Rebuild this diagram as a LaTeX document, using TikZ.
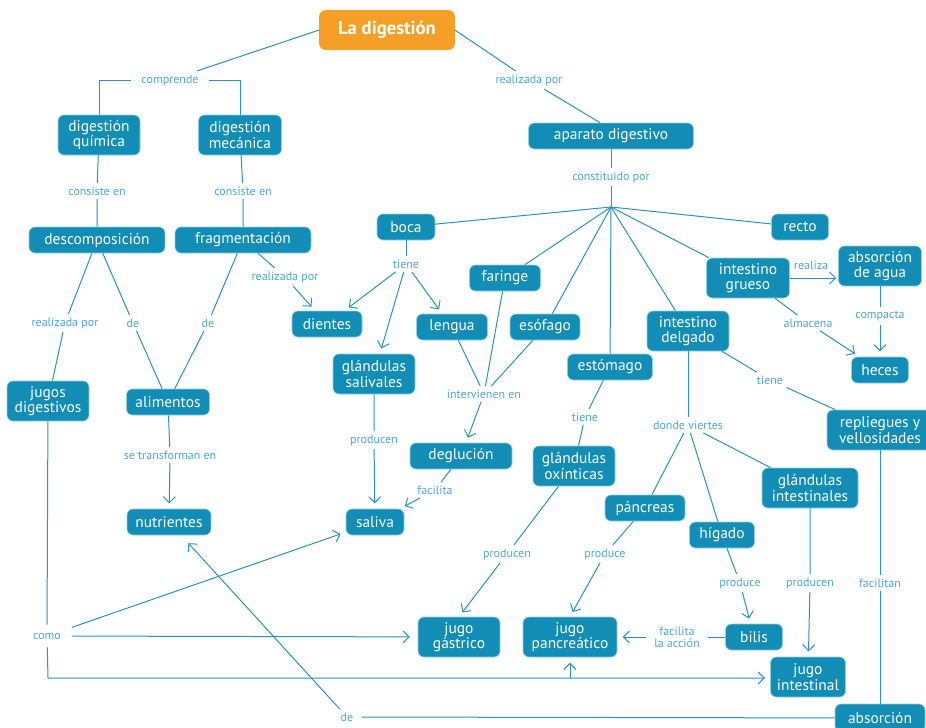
\documentclass[tikz,border=0pt]{standalone}
\usepackage{fontspec}
\setmainfont{PT Sans}
\usetikzlibrary{arrows.meta,calc}
\definecolor{nodefill}{HTML}{128DB5}
\definecolor{linec}{HTML}{2A93BE}
\definecolor{labc}{HTML}{4AAAD2}
\definecolor{orangec}{HTML}{F59F27}
\definecolor{edgec}{HTML}{8FD0E6}
\begin{document}
\begin{tikzpicture}[x=0.75pt,y=-0.75pt,
 box/.style={rounded corners=4.5pt, fill=nodefill, draw=edgec, line width=0.5pt, text=white, align=center, inner sep=0pt, font=\fontsize{11.6}{11.6}\selectfont, minimum height=19.5pt},
 tall/.style={minimum height=30pt},
 lab/.style={text=labc, font=\fontsize{9}{9}\selectfont, inner sep=2.5pt, align=center},
 con/.style={draw=linec, line width=0.75pt},
 arr/.style={con, -{Straight Barb[length=4.5pt,width=9pt]}, shorten >=4pt},
]
\useasboundingbox (0,0) rectangle (926,728);
\fill[white] (0,0) rectangle (926,728);
% nodes
\node[box, fill=orangec, draw=orangec, minimum width=101.25pt, minimum height=29.25pt, font=\fontsize{14}{14}\bfseries] (ladig) at (387,30) {La digestión};
\node[box, minimum width=123.75pt] (aparato) at (611,136) {aparato digestivo};
\node[box, tall, minimum width=61.5pt] (quim) at (99,135) {digestión\\química};
\node[box, tall, minimum width=62.25pt] (mec) at (240,135) {digestión\\mecánica};
\node[box, minimum width=102pt] (desc) at (97,240) {descomposición};
\node[box, minimum width=102pt] (frag) at (243,240) {fragmentación};
\node[box, minimum width=43.5pt] (boca) at (406,227) {boca};
\node[box, minimum width=42.75pt] (recto) at (800,227) {recto};
\node[box, minimum width=53.25pt] (faringe) at (505,278) {faringe};
\node[box, tall, minimum width=62.25pt] (grueso) at (748,278) {intestino\\grueso};
\node[box, tall, minimum width=62.25pt] (agua) at (880,266) {absorción\\de agua};
\node[box, minimum width=52.5pt] (dientes) at (327,324) {dientes};
\node[box, minimum width=53.25pt] (lengua) at (452,327) {lengua};
\node[box, minimum width=52.5pt] (esofago) at (545,327) {esófago};
\node[box, tall, minimum width=61.5pt] (delgado) at (688,331) {intestino\\delgado};
\node[box, minimum width=42.75pt] (heces) at (880,370) {heces};
\node[box, tall, minimum width=61.5pt] (salivales) at (374,374) {glándulas\\salivales};
\node[box, minimum width=63.75pt] (estomago) at (610,367) {estómago};
\node[box, tall, minimum width=61.5pt] (jugos) at (48,401) {jugos\\digestivos};
\node[box, minimum width=62.25pt] (alimentos) at (168,402) {alimentos};
\node[box, tall, minimum width=79.5pt] (repliegues) at (880,430) {repliegues y\\vellosidades};
\node[box, minimum width=76.5pt] (deglucion) at (461,456) {deglución};
\node[box, tall, minimum width=61.5pt] (oxinticas) at (574,466) {glándulas\\oxínticas};
\node[box, tall, minimum width=72pt] (intestinales) at (810,488) {glándulas\\intestinales};
\node[box, minimum width=60pt] (pancreas) at (645,508) {páncreas};
\node[box, minimum width=48.75pt] (higado) at (722,535) {hígado};
\node[box, minimum width=63pt] (nutrientes) at (169,522) {nutrientes};
\node[box, minimum width=43.5pt] (saliva) at (375,522) {saliva};
\node[box, tall, minimum width=61.5pt] (gastrico) at (459,637) {jugo\\gástrico};
\node[box, tall, minimum width=70.5pt] (pancreatico) at (570,637) {jugo\\pancreático};
\node[box, minimum width=42.75pt] (bilis) at (754,637) {bilis};
\node[box, tall, minimum width=56.25pt] (intestinal) at (808,677) {jugo\\intestinal};
\node[box, minimum width=67.5pt, minimum height=21pt] (absorcion) at (880,718) {absorción};
% labels
\node[lab, inner xsep=8pt] (lcomp) at (170,80) {comprende};
\node[lab] (lreal1) at (529,80) {realizada por};
\node[lab] (lcons1) at (97,191) {consiste en};
\node[lab] (lcons2) at (243,191) {consiste en};
\node[lab] (lconst) at (611,177) {constituido por};
\coordinate (hub) at (611,207);
\node[lab] (ltiene1) at (406,264) {tiene};
\node[lab] (lreal2) at (285,277) {realizada por};
\node[lab] (lreal3) at (65,323) {realizada por};
\node[lab] (lde1) at (133,323) {de};
\node[lab] (lde2) at (208,323) {de};
\node[lab] at (811,265) {realiza};
\node[lab] (lalm) at (808,323) {almacena};
\node[lab] (lcompacta) at (880,316) {compacta};
\node[lab] (ltiene2) at (770,380) {tiene};
\node[lab] (linterv) at (484,394) {intervienen en};
\node[lab] (lprod1) at (374,440) {producen};
\node[lab] (ltiene3) at (585,417) {tiene};
\node[lab] (ldonde) at (688,425) {donde viertes};
\node[lab] (ltransf) at (170,455) {se transforman en};
\node[lab] (lfacilita) at (435,490) {facilita};
\node[lab] (lprod2) at (507,554) {producen};
\node[lab] (lprod3) at (605,554) {produce};
\node[lab] (lprod4) at (740,583) {produce};
\node[lab] (lprod5) at (810,583) {producen};
\node[lab] (lfacilitan) at (880,583) {facilitan};
\node[lab, inner xsep=6pt] (lfacacc) at (677,637) {facilita\\la acción};
\node[lab, inner xsep=8pt, inner ysep=6pt] (lcomo) at (47,636) {como};
\node[lab, inner xsep=6pt] (lde3) at (347,717) {de};
\coordinate (c1) at (48,678);
% connectors
\draw[con] (ladig.west) -- (lcomp);
\draw[con] (lcomp.west) -| (quim.north);
\draw[con] (lcomp.east) -| (mec.north);
\draw[con] (ladig.east) -- (lreal1) -- ($(aparato.north)+(-11,0)$);
\draw[con] (quim) -- (lcons1) -- (desc);
\draw[con] (mec) -- (lcons2) -- (frag);
\draw[con] (aparato) -- (lconst) -- (hub);
\draw[con] (hub) -- (boca);
\draw[con] (hub) -- (faringe);
\draw[con] (hub) -- (esofago);
\draw[con] (hub) -- (estomago);
\draw[con] (hub) -- (delgado);
\draw[con] (hub) -- (grueso);
\draw[con] (hub) -- (recto);
\draw[con] (desc) -- (lreal3) -- (jugos);
\draw[con] (desc) -- (lde1) -- (alimentos);
\draw[con] (frag) -- (lde2) -- (alimentos);
\draw[arr] (frag) -- (lreal2) -- (dientes);
\draw[con] (boca) -- (ltiene1);
\draw[arr] (ltiene1) -- (dientes);
\draw[arr] (ltiene1) -- (salivales);
\draw[arr] (ltiene1) -- (lengua);
\draw[con] (faringe) -- (linterv);
\draw[con] (lengua) -- (linterv);
\draw[con] (esofago) -- (linterv);
\draw[arr] (linterv) -- (deglucion);
\draw[arr] (salivales) -- (lprod1) -- (saliva);
\draw[arr] (deglucion) -- (lfacilita) -- (saliva);
\draw[arr] (alimentos) -- (ltransf) -- (nutrientes);
\draw[con] (estomago) -- (ltiene3) -- (oxinticas);
\draw[arr] (oxinticas) -- (lprod2) -- (gastrico.north);
\draw[con] (delgado) -- (ldonde);
\draw[con] (ldonde) -- (pancreas);
\draw[con] (ldonde) -- (higado);
\draw[con] (ldonde) -- (intestinales);
\draw[arr] (pancreas) -- (lprod3) -- (pancreatico.north);
\draw[arr] (higado) -- (lprod4) -- (bilis);
\draw[arr] (intestinales) -- (lprod5) -- (intestinal);
\draw[arr] (bilis) -- (lfacacc) -- (pancreatico);
\draw[con] (delgado) -- (ltiene2) -- (repliegues);
\draw[arr, shorten >=1.5pt] (grueso.east) -- (grueso.east -| agua.west);
\draw[arr] (grueso) -- (lalm) -- (heces);
\draw[arr] (agua) -- (lcompacta) -- (heces);
\draw[con] (repliegues) -- (lfacilitan) -- (absorcion);
\draw[arr, shorten >=8pt] (absorcion) -- (lde3) -- (nutrientes);
\draw[con] (jugos) -- (lcomo);
\draw[arr] (lcomo) -- (c1) -- (c1 -| intestinal.west);
\draw[arr] (c1 -| pancreatico.south) -- (pancreatico.south);
\draw[arr] (lcomo) -- (saliva);
\draw[arr, shorten >=6pt] (lcomo) -- (gastrico);
\end{tikzpicture}
\end{document}
